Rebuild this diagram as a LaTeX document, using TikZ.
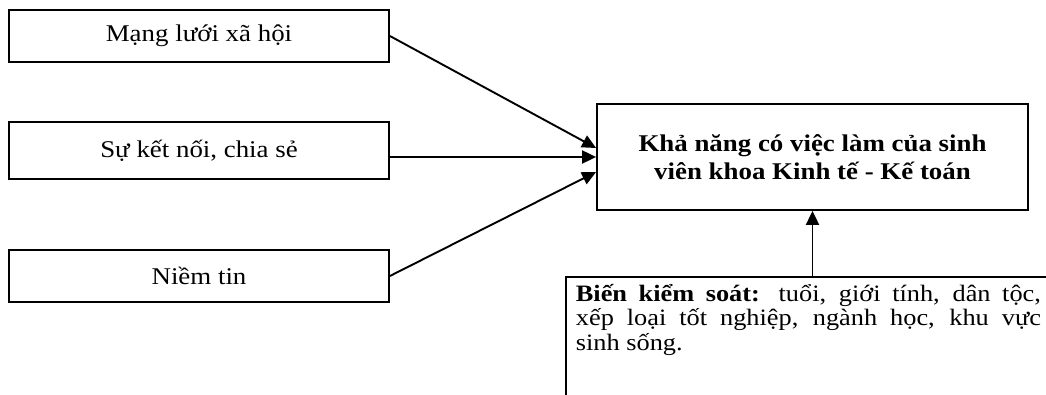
\documentclass[tikz,border=0pt]{standalone}
\usepackage{fontspec}
\setmainfont{Liberation Serif}[FakeStretch=1.12]
\usetikzlibrary{arrows.meta,calc}
\begin{document}
\begin{tikzpicture}[x=1pt,y=-1pt,
  box/.style={draw,line width=1.8pt,inner sep=0pt,minimum width=380pt,
    font=\fontsize{24}{28}\selectfont},
  mainbox/.style={draw,line width=1.8pt,inner sep=0pt,minimum width=431pt,
    minimum height=106pt,align=center,
    font=\fontsize{24}{27.5}\selectfont\bfseries},
  ctrlbox/.style={draw,line width=1.8pt,anchor=north west,inner xsep=10pt,
    inner ysep=0pt,text width=465pt,align=justify,
    font=\fontsize{23.5}{24.5}\selectfont},
  arr/.style={line width=1.9pt,-{Triangle[length=14pt,width=13pt]}}]
\useasboundingbox (0,0) rectangle (1046,395);
\clip (0,0) rectangle (1046,395);
\node[box,minimum height=52pt] (b1) at (199,36) {Mạng lưới xã hội};
\node[box,minimum height=57pt] (b2) at (199,150.5) {Sự kết nối, chia sẻ};
\node[box,minimum height=52pt] (b3) at (199,276) {Niềm tin};
\node[mainbox] (main) at (812.5,157) {Khả năng có việc làm của sinh\\viên khoa Kinh tế - Kế toán};
\node[ctrlbox] (ctrl) at (565,276) {\rule{0pt}{24.5pt}\textbf{Biến kiểm soát:} tuổi, giới tính, dân tộc,\linebreak xếp loại tốt nghiệp, ngành học, khu vực\linebreak sinh sống.\par\rule{0pt}{60pt}};
\coordinate (t1) at ($(main.west)+(0,-9)$);
\coordinate (t3) at ($(main.west)+(0,15)$);
\draw[arr] (b1.east) -- (t1);
\draw[arr] (b2.east |- main.west) -- (main.west);
\draw[arr] (b3.east) -- (t3);
\draw[arr] (ctrl.north -| main.south) -- (main.south);
\end{tikzpicture}
\end{document}
